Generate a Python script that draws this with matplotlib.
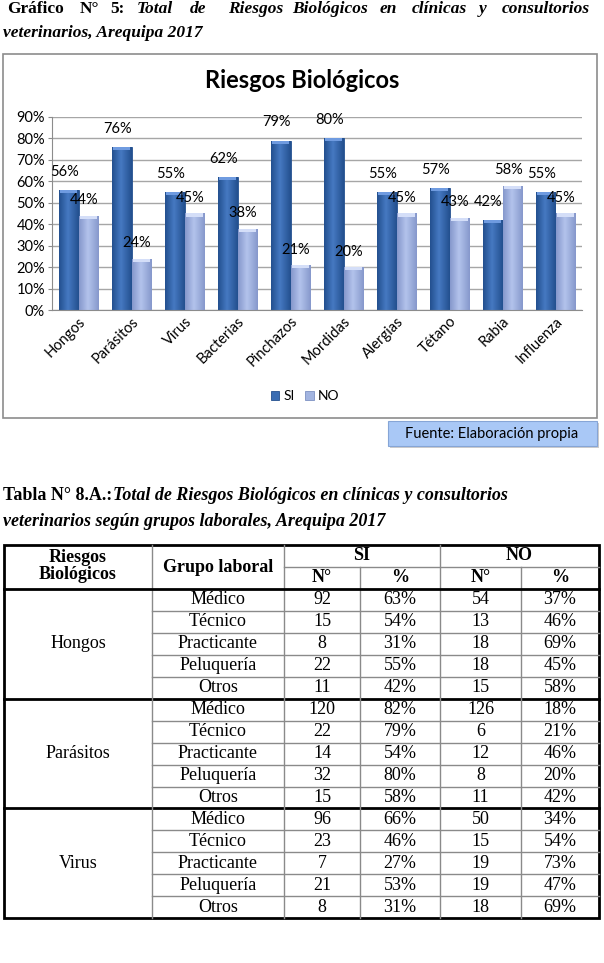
import numpy as np
import matplotlib
matplotlib.use("Agg")
import matplotlib.pyplot as plt
from matplotlib.patches import Rectangle

# chart data
categories = ["Hongos", "Parásitos", "Virus", "Bacterias", "Pinchazos",
              "Mordidas", "Alergias", "Tétano", "Rabia", "Influenza"]
si_vals = [56, 76, 55, 62, 79, 80, 55, 57, 42, 55]
no_vals = [44, 24, 45, 38, 21, 20, 45, 43, 58, 45]
series_names = ["SI", "NO"]

# table data
riesgos = ["Hongos", "Parásitos", "Virus"]
grupos = ["Médico", "Técnico", "Practicante", "Peluquería", "Otros"]
si_n = [[92, 15, 8, 22, 11], [120, 22, 14, 32, 15], [96, 23, 7, 21, 8]]
si_pct = [["63%", "54%", "31%", "55%", "42%"],
          ["82%", "79%", "54%", "80%", "58%"],
          ["66%", "46%", "27%", "53%", "31%"]]
no_n = [[54, 13, 18, 18, 15], [126, 6, 12, 8, 11], [50, 15, 19, 19, 18]]
no_pct = [["37%", "46%", "69%", "45%", "58%"],
          ["18%", "21%", "46%", "20%", "42%"],
          ["34%", "54%", "73%", "47%", "69%"]]

W, H = 604, 963
fig = plt.figure(figsize=(W / 100, H / 100), dpi=100)
fig.patch.set_facecolor("white")

# page overlay in pixel coordinates
bg = fig.add_axes([0, 0, 1, 1])
bg.set_xlim(0, W)
bg.set_ylim(H, 0)
bg.axis("off")

serif = "Liberation Serif"
sans = "Lato"

# heading of the chart, words spread as in the justified scan
words = [("Gráfico", 7, "normal"), ("N°", 80, "normal"), ("5:", 110, "normal"),
         ("Total", 137, "italic"), ("de", 190, "italic"), ("Riesgos", 228, "italic"),
         ("Biológicos", 292, "italic"), ("en", 380, "italic"), ("clínicas", 412, "italic"),
         ("y", 479, "italic"), ("consultorios", 502, "italic")]
for w, x, st in words:
    bg.text(x, 13, w, fontsize=12.5, fontweight="bold", style=st, family=serif,
            va="baseline", ha="left")
bg.text(3, 37, "veterinarios, Arequipa 2017", fontsize=12.5, fontweight="bold",
        style="italic", family=serif, va="baseline", ha="left")

# chart frame
bg.add_patch(Rectangle((3, 54), 594, 364, fill=False, ec="#8c8c8c", lw=1.2))
bg.text(302, 80, "Riesgos Biológicos", fontsize=17, fontweight="bold",
        family=sans, ha="center", va="center")

ax = fig.add_axes([52 / W, 1 - 310 / H, 530 / W, 193 / H])
x = np.arange(len(categories))
bw = 0.37
si = np.array(si_vals) / 100
no = np.array(no_vals) / 100

ax.set_xlim(-0.5, len(categories) - 0.5)
ax.set_ylim(0, 0.9)
ax.set_yticks(np.arange(0, 0.91, 0.1))
ax.set_yticklabels([f"{int(round(v * 100))}%" for v in np.arange(0, 0.91, 0.1)],
                   fontsize=10.5, family=sans)
ax.yaxis.grid(True, color="#a6a6a6", lw=1)
ax.set_axisbelow(True)
for s in ["top", "right"]:
    ax.spines[s].set_visible(False)
ax.spines["left"].set_color("#8c8c8c")
ax.spines["bottom"].set_color("#8c8c8c")
ax.tick_params(axis="y", length=3, color="#8c8c8c", pad=2)
ax.tick_params(axis="x", length=0, pad=3)
ax.set_xticks(x)
ax.set_xticklabels(categories, rotation=45, ha="right", rotation_mode="anchor",
                   fontsize=10.5, family=sans)

b1 = ax.bar(x - bw / 2, si, bw, color="#3a6db3", edgecolor="#24508f", lw=0.6,
            label=series_names[0])
b2 = ax.bar(x + bw / 2, no, bw, color="#a2b4e0", edgecolor="#7d91c2", lw=0.6,
            label=series_names[1])


def shade(bars, c_edge, c_mid, c_top):
    cols = np.array([matplotlib.colors.to_rgb(c) for c in (c_edge, c_mid, c_edge)])
    t = np.linspace(0, 1, 40)
    grad = np.empty((1, 40, 3))
    for k in range(3):
        grad[0, :, k] = np.interp(t, [0, 0.45, 1], cols[:, k])
    for p in bars:
        x0, w, h = p.get_x(), p.get_width(), p.get_height()
        im = ax.imshow(grad, extent=[x0, x0 + w, 0, h], aspect="auto", zorder=p.get_zorder())
        im.set_clip_path(p)
        cap = Rectangle((x0 + w * 0.08, h - 0.014), w * 0.84, 0.014,
                        color=c_top, zorder=p.get_zorder() + 0.1, lw=0)
        ax.add_patch(cap)


shade(b1, "#23508f", "#4679c2", "#6f9be0")
shade(b2, "#8698cc", "#b3c3ec", "#d4def8")
ax.set_xlim(-0.5, len(categories) - 0.5)
ax.set_ylim(0, 0.9)

for i in range(len(categories)):
    ax.annotate(f"{si_vals[i]}%", (x[i] - bw / 2, si[i]), xytext=(-3, 8),
                textcoords="offset points", ha="center", va="bottom",
                fontsize=10.5, family=sans)
    ax.annotate(f"{no_vals[i]}%", (x[i] + bw / 2, no[i]), xytext=(-3, 6),
                textcoords="offset points", ha="center", va="bottom",
                fontsize=10.5, family=sans)

leg = fig.legend(handles=[b1, b2], labels=series_names, loc="center",
                 bbox_to_anchor=(305 / W, 1 - 396 / H), ncol=2, frameon=False,
                 prop={"family": sans, "size": 10}, handlelength=0.6,
                 handleheight=0.6, handletextpad=0.3, columnspacing=0.8)

# source box
bg.add_patch(Rectangle((390, 423), 209, 25, color="#9a9a9a", alpha=0.5, lw=0))
bg.add_patch(Rectangle((388, 421), 209, 25, facecolor="#a9c8f6", edgecolor="#86a5d6", lw=0.8))
bg.text(492, 434, "Fuente: Elaboración propia", fontsize=10.5, family=sans,
        ha="center", va="center")

# table heading
bg.text(3, 500, "Tabla N° 8.A.:", fontsize=13, fontweight="bold", family=serif,
        va="baseline")
bg.text(113, 500, "Total de Riesgos Biológicos en clínicas y consultorios",
        fontsize=13, fontweight="bold", style="italic", family=serif, va="baseline")
bg.text(3, 526, "veterinarios según grupos laborales, Arequipa 2017",
        fontsize=13, fontweight="bold", style="italic", family=serif, va="baseline")

# table
cols = [4, 152, 284, 360, 440, 521, 599]
top, hmid, hbot = 545, 567, 589
rh = 21.95
nrows = len(riesgos) * len(grupos)
bottom = hbot + nrows * rh
thin = dict(color="#8a8a8a", lw=1)
thick = dict(color="black", lw=2)

for r in range(1, nrows):
    y = hbot + r * rh
    if r % len(grupos) == 0:
        bg.plot([cols[0], cols[-1]], [y, y], **thick)
    else:
        bg.plot([cols[1], cols[-1]], [y, y], **thin)
for c in cols[2:-1]:
    bg.plot([c, c], [hmid if c in (cols[3], cols[5]) else top, bottom], **thin)
bg.plot([cols[1], cols[1]], [top, bottom], **thin)
bg.plot([cols[2], cols[-1]], [hmid, hmid], **thin)
bg.plot([cols[0], cols[-1]], [hbot, hbot], **thick)
bg.add_patch(Rectangle((cols[0], top), cols[-1] - cols[0], bottom - top,
                       fill=False, ec="black", lw=2))

tf = dict(family=serif, fontsize=13, ha="center", va="center")
hf = dict(tf, fontweight="bold")
bg.text((cols[0] + cols[1]) / 2, 566, "Riesgos\nBiológicos", linespacing=1.0, **hf)
bg.text((cols[1] + cols[2]) / 2, 567, "Grupo laboral", **hf)
bg.text((cols[2] + cols[4]) / 2, 556, "SI", **hf)
bg.text((cols[4] + cols[6]) / 2, 556, "NO", **hf)
for c0, c1, lab in [(2, 3, "N°"), (3, 4, "%"), (4, 5, "N°"), (5, 6, "%")]:
    bg.text((cols[c0] + cols[c1]) / 2, 578, lab, **hf)

for g, name in enumerate(riesgos):
    y0 = hbot + g * len(grupos) * rh
    bg.text((cols[0] + cols[1]) / 2, y0 + len(grupos) * rh / 2, name, **tf)
    for j, gr in enumerate(grupos):
        yc = y0 + (j + 0.5) * rh
        vals = [gr, str(si_n[g][j]), si_pct[g][j], str(no_n[g][j]), no_pct[g][j]]
        for k, v in enumerate(vals):
            bg.text((cols[k + 1] + cols[k + 2]) / 2, yc, v, **tf)

fig.savefig("out.png", dpi=100)
